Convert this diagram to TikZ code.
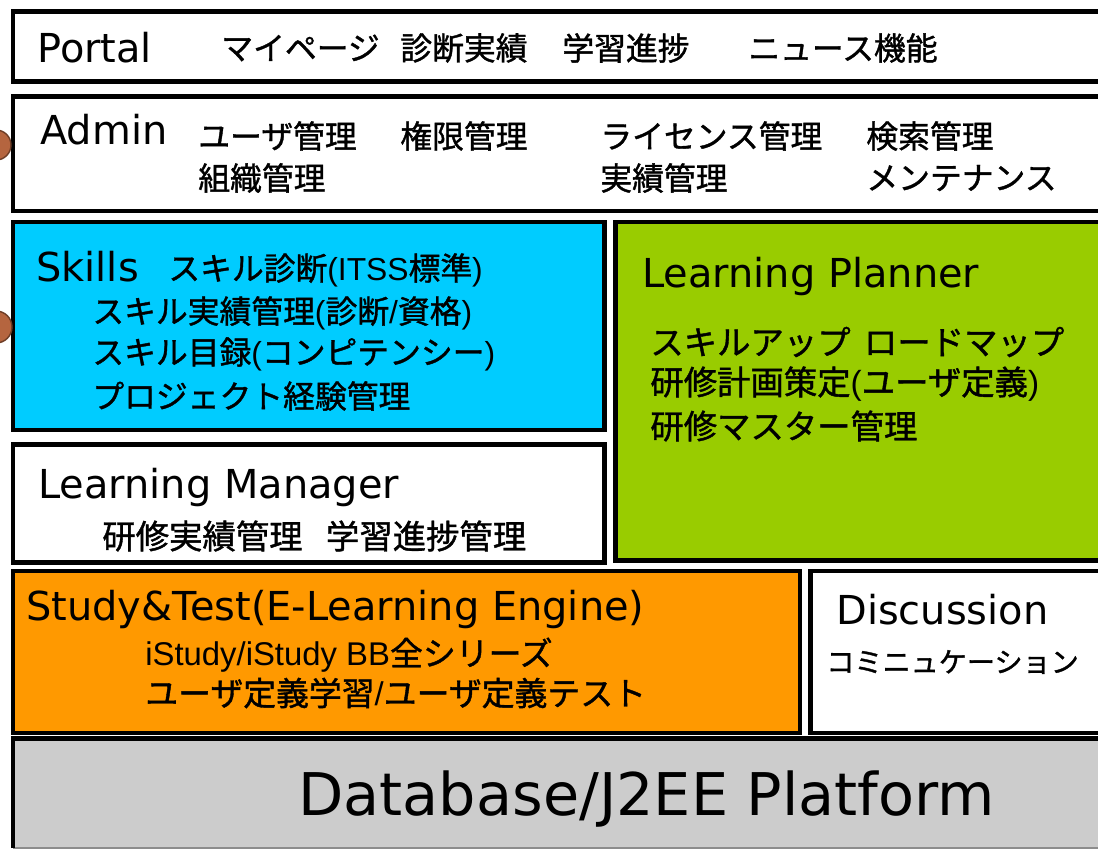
\documentclass[tikz,border=0pt]{standalone}
\usepackage{fontspec}
\setmainfont{DejaVu Sans}
\newfontfamily\jp[FakeBold=1.2]{Noto Sans CJK JP}
\newfontfamily\arl{Liberation Sans}
\usetikzlibrary{positioning}
\definecolor{skillblue}{HTML}{00CCFF}
\definecolor{plangreen}{HTML}{99CC00}
\definecolor{studyorange}{HTML}{FF9900}
\definecolor{dbgray}{HTML}{CCCCCC}
\definecolor{knob}{HTML}{B5653F}

\begin{document}
\begin{tikzpicture}[x=0.02cm,y=-0.02cm,
    layer/.style={draw=black,line width=2.8pt},
    ttl/.style={anchor=base west,inner sep=0pt,font=\fontsize{22.7}{27}\selectfont},
    jtxt/.style={anchor=west,inner sep=0pt,font=\jp\fontsize{18.1}{22}\selectfont},
    jbig/.style={jtxt,font=\jp\fontsize{19}{23}\selectfont}]
		\useasboundingbox (0,0) rectangle (1098,850);
		\clip (0,0) rectangle (1098,850);
		\fill[white] (0,0) rectangle (1098,850);
		% layers
		\draw[layer,fill=white] (13,11.5) rectangle (1120,81.5);
		\draw[layer,fill=white] (13,96.5) rectangle (1120,211);
		\draw[layer,fill=skillblue] (13,222) rectangle (604.5,430);
		\draw[layer,fill=plangreen] (615.5,222) rectangle (1120,560.5);
		\draw[layer,fill=white] (13,444.5) rectangle (604.5,562.5);
		\draw[layer,fill=studyorange] (13,571) rectangle (800,733);
		\draw[layer,fill=white] (810.5,571) rectangle (1120,733);
		\fill[dbgray] (13,738.5) rectangle (1120,848);
		\draw[black!45,line width=.6pt] (13,848) -- (1120,848);
		\draw[black,line width=2.8pt] (13,848) -- (13,738.5) -- (1120,738.5);
		\draw[knob!60!black,fill=knob,line width=.8pt] (-4,145) circle (15);
		\draw[knob!60!black,fill=knob,line width=.8pt] (-4,327) circle (16);
		% Portal
		\node[ttl] (portal) at (37,62) {Portal};
		\node[jtxt] (mypage) at (221,48) {マイページ};
		\node[jtxt] (diag) at (400,48) {診断実績};
		\node[jtxt] (prog) at (562,48) {学習進捗};
		\node[jtxt] (news) at (748,48) {ニュース機能};
		% Admin
		\node[ttl] (admin) at (40,144) {Admin};
		\node[jtxt] (user) at (198,136) {ユーザ管理};
		\node[jtxt] (auth) at (400,136) {権限管理};
		\node[jtxt] (lic) at (600,136) {ライセンス管理};
		\node[jtxt] (search) at (866,136) {検索管理};
		\node[jtxt] (org) at (198,178) {組織管理};
		\node[jtxt] (rec) at (600,178) {実績管理};
		\node[jtxt] (maint) at (866,178) {メンテナンス};
		% Skills
		\node[ttl] (skills) at (36,281) {Skills};
		\node[jtxt] (s1) at (168,270) {スキル診断{\arl (ITSS}標準{\arl )}};
		\node[jtxt] (s2) at (92,313) {スキル実績管理{\arl (}診断{\arl /}資格{\arl )}};
		\node[jtxt] (s3) at (92,354) {スキル目録{\arl (}コンピテンシー{\arl )}};
		\node[jtxt] (s4) at (92,396) {プロジェクト経験管理};
		% Learning Planner
		\node[ttl] (planner) at (642,287) {Learning Planner};
		\node[jbig] (p1) at (650,342) {スキルアップ\hspace{.4em}ロードマップ};
		\node[jbig] (p2) at (650,384) {研修計画策定{\arl (}ユーザ定義{\arl )}};
		\node[jbig] (p3) at (650,426) {研修マスター管理};
		% Learning Manager
		\node[ttl] (manager) at (38,498) {Learning Manager};
		\node[jbig] (m1) at (102,536) {研修実績管理\hspace{.7em}学習進捗管理};
		% Study & Test
		\node[jtxt,font=\jp\fontsize{18.7}{22}\selectfont] (t1) at (145,655) {{\arl iStudy/iStudy BB}全シリーズ};
		\node[jtxt,font=\jp\fontsize{18.7}{22}\selectfont] (t2) at (145,693) {ユーザ定義学習{\arl /}ユーザ定義テスト};
		\node[ttl] (study) at (26,620) {Study\&Test(E-Learning Engine)};
		% Discussion
		\node[ttl] (disc) at (836,624) {Discussion};
		\node[jtxt,font=\jp\fontsize{16}{20}\selectfont] (d1) at (826,662) {コミニュケーション};
		% Database
		\node[ttl,font=\fontsize{33.5}{40}\selectfont] (db) at (298,815) {Database/J2EE Platform};
	\end{tikzpicture}
\end{document}
